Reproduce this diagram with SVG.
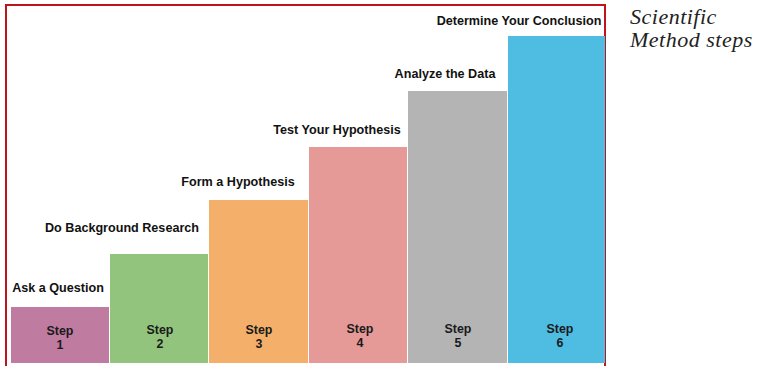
<svg xmlns="http://www.w3.org/2000/svg" width="759" height="366" viewBox="0 0 759 366">
<style>
.lbl{font-family:"Liberation Sans",Arial,sans-serif;font-weight:bold;font-size:12.6px;fill:#111;text-anchor:middle}
.stp{font-family:"Liberation Sans",Arial,sans-serif;font-weight:bold;font-size:12.4px;fill:#1a1a1a;text-anchor:middle}
.ttl{font-family:"Liberation Serif","DejaVu Serif",serif;font-style:italic;font-size:22px;letter-spacing:0.5px;fill:#222}
</style>
<rect x="0" y="0" width="759" height="366" fill="#fff"/>
<rect x="6" y="5" width="599" height="370" fill="#fff" stroke="#c0141c" stroke-width="2"/>
<g id="step1"><rect x="11" y="307" width="98" height="56" fill="#c07ba0"/><text class="lbl" x="58" y="292">Ask a Question</text><text class="stp" x="60" y="335">Step</text><text class="stp" x="60" y="349">1</text></g>
<g id="step2"><rect x="110" y="254" width="98" height="109" fill="#93c47d"/><text class="lbl" x="122" y="232">Do Background Research</text><text class="stp" x="160" y="334">Step</text><text class="stp" x="160" y="348">2</text></g>
<g id="step3"><rect x="209" y="200" width="99" height="163" fill="#f4b06a"/><text class="lbl" x="238" y="186">Form a Hypothesis</text><text class="stp" x="259" y="334">Step</text><text class="stp" x="259" y="348">3</text></g>
<g id="step4"><rect x="309" y="147" width="98" height="216" fill="#e69a98"/><text class="lbl" x="337" y="134">Test Your Hypothesis</text><text class="stp" x="360" y="333">Step</text><text class="stp" x="360" y="347">4</text></g>
<g id="step5"><rect x="408" y="91" width="99" height="272" fill="#b4b4b4"/><text class="lbl" x="445" y="78">Analyze the Data</text><text class="stp" x="458" y="333">Step</text><text class="stp" x="458" y="347">5</text></g>
<g id="step6"><rect x="508" y="36" width="97" height="327" fill="#4fbde2"/><text class="lbl" x="519" y="25">Determine Your Conclusion</text><text class="stp" x="560" y="333">Step</text><text class="stp" x="560" y="347">6</text></g>
<g id="connectors"/>
<g id="title"><text class="ttl" x="630" y="24">Scientific</text><text class="ttl" x="630" y="47">Method steps</text></g>
</svg>
